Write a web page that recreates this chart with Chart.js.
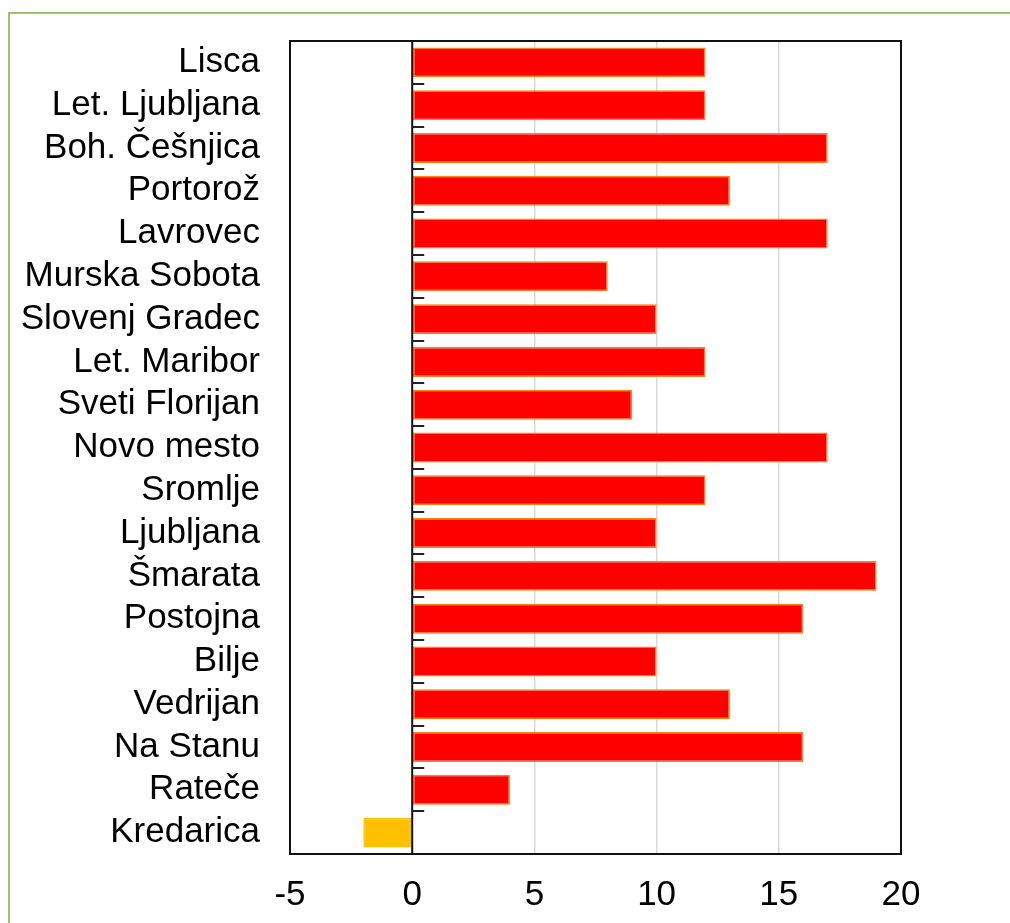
<!DOCTYPE html>
<html>
<head>
<meta charset="utf-8">
<script src="https://cdn.jsdelivr.net/npm/chart.js@4"></script>
<style>
    html, body { margin: 0; padding: 0; background: #fff; overflow: hidden; }
    #wrap { position: relative; width: 1010px; height: 923px; }
    #frame { position: absolute; left: 8px; top: 12px; width: 1100px; height: 1000px;
             border-left: 2px solid #a3c16a; border-top: 2px solid #a3c16a; }
    canvas { position: absolute; left: 0; top: 0; }
</style>
</head>
<body>
<div id="wrap">
    <div id="frame"></div>
    <canvas id="chart" width="1010" height="923"></canvas>
</div>
<script>
// stations, top to bottom
const stations = [
    "Lisca", "Let. Ljubljana", "Boh. Češnjica", "Portorož", "Lavrovec",
    "Murska Sobota", "Slovenj Gradec", "Let. Maribor", "Sveti Florijan",
    "Novo mesto", "Sromlje", "Ljubljana", "Šmarata", "Postojna", "Bilje",
    "Vedrijan", "Na Stanu", "Rateče", "Kredarica"
];
const values = [12, 12, 17, 13, 17, 8, 10, 12, 9, 17, 12, 10, 19, 16, 10, 13, 16, 4, -2];
const xTicks = [-5, 0, 5, 10, 15, 20];

const FONT = "'Liberation Sans', Arial, sans-serif";

// frame, zero line and the little ticks on it
const framePlugin = {
    id: "framePlugin",
    afterDatasetsDraw(chart) {
        const ctx = chart.ctx;
        const area = chart.chartArea;
        const x = chart.scales.x;
        const y = chart.scales.y;
        const x0 = x.getPixelForValue(0);
        ctx.save();
        ctx.strokeStyle = "#111";
        ctx.lineWidth = 2;
        ctx.beginPath();
        ctx.moveTo(x0, area.top);
        ctx.lineTo(x0, area.bottom);
        ctx.stroke();

        ctx.lineWidth = 2;
        ctx.strokeStyle = "#222";
        for (let i = 1; i < stations.length; i++) {
            const yy = Math.round((y.getPixelForValue(i - 1) + y.getPixelForValue(i)) / 2);
            ctx.beginPath();
            ctx.moveTo(x0, yy);
            ctx.lineTo(x0 + 12, yy);
            ctx.stroke();
        }

        ctx.lineWidth = 2;
        ctx.strokeStyle = "#111";
        ctx.strokeRect(area.left, area.top, area.right - area.left, area.bottom - area.top);
        ctx.restore();
    },
};

new Chart(document.getElementById("chart"), {
    type: "bar",
    data: {
        labels: stations,
        datasets: [
            {
                data: values,
                backgroundColor: values.map((v) => (v < 0 ? "#ffc000" : "#ff0000")),
                borderColor: values.map((v) => (v < 0 ? "#ffc000" : "#ff7f1a")),
                borderWidth: 1.5,
                borderSkipped: false,
                categoryPercentage: 1,
                barPercentage: 0.7,
            },
        ],
    },
    options: {
        indexAxis: "y",
        responsive: false,
        animation: false,
        layout: { padding: { top: 41, right: 109, left: 0, bottom: 0 } },
        plugins: { legend: { display: false }, tooltip: { enabled: false } },
        scales: {
            x: {
                min: -5,
                max: 20,
                afterBuildTicks: (axis) => {
                    axis.ticks = xTicks.map((v) => ({ value: v }));
                },
                afterFit: (axis) => {
                    axis.height = 69;
                    axis.paddingLeft = 0;
                    axis.paddingRight = 0;
                },
                grid: {
                    drawTicks: false,
                    color: (c) => (c.tick && [5, 10, 15].includes(c.tick.value) ? "#d9d9d9" : "rgba(0,0,0,0)"),
                    lineWidth: 1.5,
                },
                border: { display: false },
                ticks: {
                    padding: 20,
                    color: "#000",
                    font: { family: FONT, size: 35 },
                },
            },
            y: {
                afterFit: (axis) => {
                    axis.width = 290;
                    axis.paddingTop = 0;
                    axis.paddingBottom = 0;
                },
                grid: { display: false, drawTicks: false },
                border: { display: false },
                ticks: {
                    padding: 30,
                    color: "#000",
                    autoSkip: false,
                    font: { family: FONT, size: 35 },
                },
            },
        },
    },
    plugins: [framePlugin],
});
</script>
</body>
</html>
